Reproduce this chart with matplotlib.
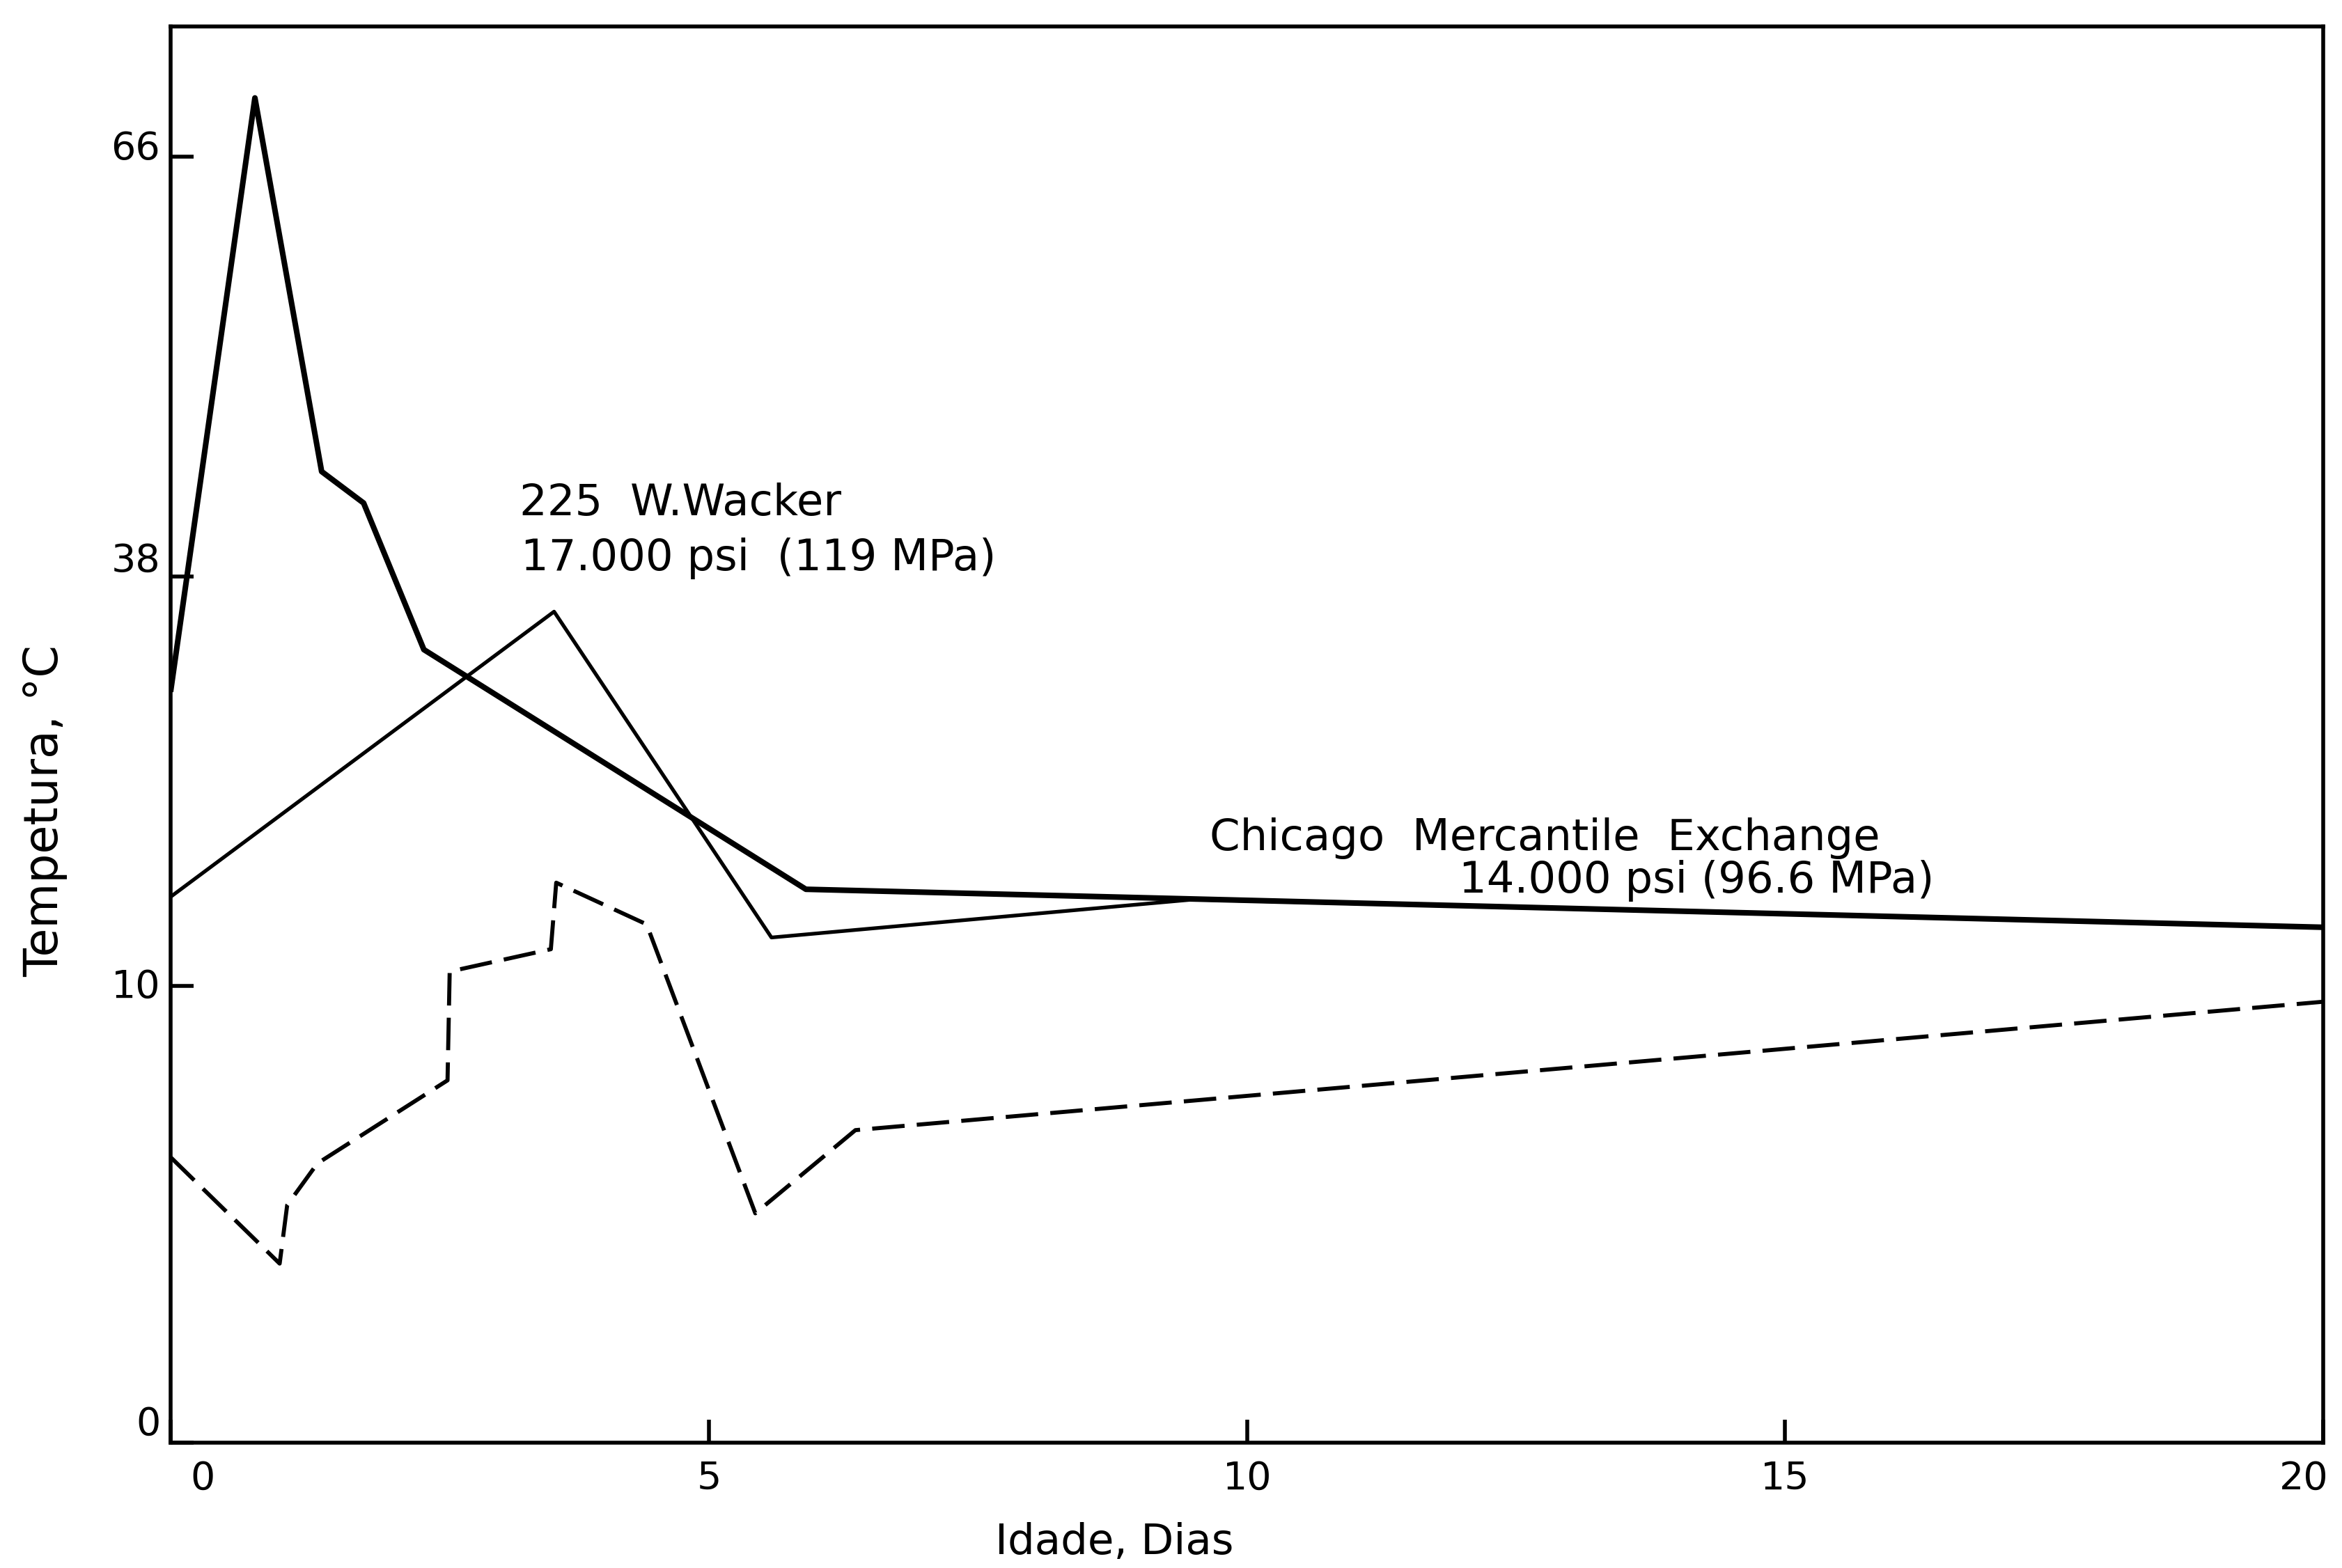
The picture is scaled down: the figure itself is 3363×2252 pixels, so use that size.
import numpy as np
import matplotlib
matplotlib.use("Agg")
import matplotlib.pyplot as plt
from matplotlib.transforms import ScaledTranslation

# dados (idade em dias, temperatura em C)
dias_wacker = [0.0, 0.78, 1.40, 1.79, 2.35, 5.90, 20.0]
temp_wacker = [30.3, 69.9, 45.0, 42.9, 33.0, 16.6, 14.0]

dias_cme = [0.0, 3.56, 5.58, 9.5, 20.0]
temp_cme = [16.1, 35.6, 13.3, 15.9, 14.0]

dias_amb = [0.0, 1.01, 1.08, 1.36, 2.57, 2.59, 3.53, 3.58, 4.42, 5.43, 6.36, 20.0]
temp_amb = [6.24, 3.92, 5.20, 6.11, 7.93, 10.97, 12.5, 17.05, 14.2, 5.02, 6.84, 9.65]

x_ticks = [0, 5, 10, 15, 20]
x_labels = ["0", "5", "10", "15", "20"]
y_ticks = [0, 10, 38, 66]
y_labels = ["0", "10", "38", "66"]

# escala vertical nao linear do original (posicoes relativas dos ticks)
y_pos = [0.0, 306.0, 580.0, 861.3]
slope_top = (y_pos[3] - y_pos[2]) / (y_ticks[3] - y_ticks[2])
slope_bot = (y_pos[1] - y_pos[0]) / (y_ticks[1] - y_ticks[0])


def forward(v):
    v = np.asarray(v, dtype=float)
    out = np.interp(v, y_ticks, y_pos)
    out = np.where(v > y_ticks[-1], y_pos[-1] + (v - y_ticks[-1]) * slope_top, out)
    out = np.where(v < y_ticks[0], v * slope_bot, out)
    return out


def inverse(p):
    p = np.asarray(p, dtype=float)
    out = np.interp(p, y_pos, y_ticks)
    out = np.where(p > y_pos[-1], y_ticks[-1] + (p - y_pos[-1]) / slope_top, out)
    out = np.where(p < y_pos[0], p / slope_bot, out)
    return out


plt.rcParams["font.family"] = ["DejaVu Sans"]

fig = plt.figure(figsize=(33.63, 22.52), dpi=100)
ax = fig.add_axes([0.0730, 0.0799, 0.9190, 0.9032])

ax.plot(dias_wacker, temp_wacker, color="black", linewidth=5.8)
ax.plot(dias_cme, temp_cme, color="black", linewidth=3.8)
ax.plot(dias_amb, temp_amb, color="black", linewidth=4.2, linestyle=(0, (8, 3)))

ax.set_yscale("function", functions=(forward, inverse))
ax.set_xlim(0, 20)
ax.set_ylim(0, 74.66)

ax.set_xticks(x_ticks)
ax.set_xticklabels(x_labels)
ax.set_yticks(y_ticks)
ax.set_yticklabels(y_labels)
ax.minorticks_off()

ax.tick_params(axis="both", direction="in", length=24, width=4.0, labelsize=40)
ax.tick_params(axis="x", pad=18)
ax.tick_params(axis="y", pad=11)

for s in ax.spines.values():
    s.set_linewidth(4.0)

# pequenos deslocamentos dos rotulos como no original
xl = ax.xaxis.get_majorticklabels()
xl[0].set_transform(xl[0].get_transform() + ScaledTranslation(0.46, 0, fig.dpi_scale_trans))
xl[-1].set_transform(xl[-1].get_transform() + ScaledTranslation(-0.28, 0, fig.dpi_scale_trans))
y_shift = [0.32, 0.04, 0.28, 0.17]
for lab, dy in zip(ax.yaxis.get_majorticklabels(), y_shift):
    lab.set_transform(lab.get_transform() + ScaledTranslation(0, dy, fig.dpi_scale_trans))

ax.set_xlabel("Idade, Dias", fontsize=44)
ax.xaxis.set_label_coords(0.4385, -0.056)
ax.set_ylabel("Tempetura, °C", fontsize=48)
ax.yaxis.set_label_coords(-0.048, 0.446)

# anotacoes
ax.text(3.24, 42.1, "225  W.Wacker", fontsize=45, ha="left", va="baseline")
ax.text(3.25, 38.4, "17.000 psi  (119 MPa)", fontsize=45, ha="left", va="baseline")
ax.text(9.65, 19.3, "Chicago  Mercantile  Exchange", fontsize=45, ha="left", va="baseline")
ax.text(11.97, 16.35, "14.000 psi (96.6 MPa)", fontsize=45, ha="left", va="baseline")

fig.savefig("out.png", dpi=100, facecolor="white")
